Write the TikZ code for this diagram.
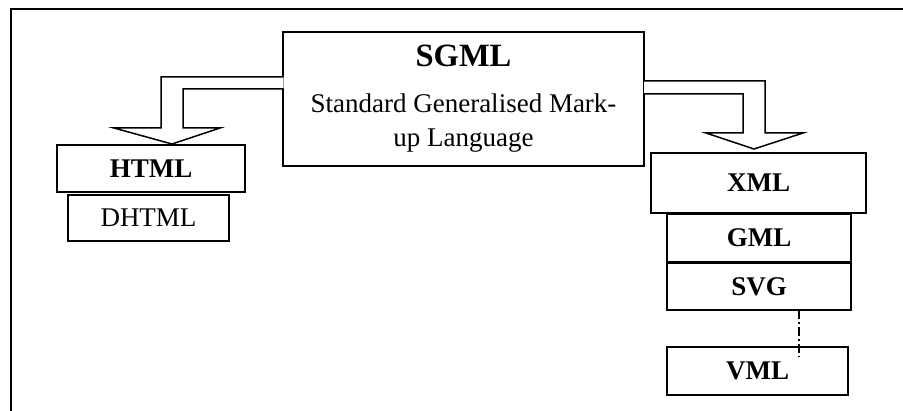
\documentclass[tikz,border=0pt]{standalone}
\usepackage{fontspec}
\setmainfont{Liberation Serif}
\usepackage{tikz}
\usetikzlibrary{positioning, calc}
\tikzstyle{langbox} = [rectangle, draw, line width=0.75pt, inner sep=0pt, font=\fontsize{27}{34}\selectfont]
\tikzstyle{boldbox} = [langbox, font=\fontsize{27}{34}\selectfont\bfseries]
\tikzstyle{blockarrow} = [draw, fill=white, line width=0.75pt, line join=miter]
\tikzstyle{linkline} = [line width=0.75pt, dash pattern=on 4.5pt off 1.5pt on 1pt off 1.5pt]

\begin{document}
\begin{tikzpicture}[x=1pt, y=-1pt, scale=0.5, transform shape]
    \useasboundingbox (0,0) rectangle (903,411);
    % Page frame
    \draw[line width=1pt] (11,411) -- (11,9) -- (903,9);

    % Root language
    \node[langbox, minimum width=361, minimum height=134, align=center] (sgml) at (463.5,99)
        {{\fontsize{32.5}{39}\selectfont\bfseries SGML}\\[12pt]Standard Generalised Mark-\\up Language};

    % Left branch
    \node[boldbox, minimum width=188, minimum height=47] (html) at (151,168.5) {HTML};
    \node[langbox, minimum width=161, minimum height=46] (dhtml) at (148.5,218) {DHTML};

    % Right branch
    \node[boldbox, minimum width=215, minimum height=60] (xml) at (758.5,183) {XML};
    \node[boldbox, minimum width=184, minimum height=48] (gml) at (759,238) {GML};
    \node[boldbox, minimum width=184, minimum height=47] (svg) at (759,286.5) {SVG};
    \node[boldbox, minimum width=181, minimum height=48] (vml) at (757.5,371) {VML};

    % Block arrows out of SGML
    \draw[blockarrow] (283.5,77) -- (161,77) -- (161,128) -- (114,128) -- (172,144)
        -- (220,128) -- (183,128) -- (183,89) -- (283.5,89);
    \draw[blockarrow] (644,81) -- (765,81) -- (765,133) -- (803,133) -- (754,149)
        -- (706,133) -- (743,133) -- (743,94) -- (644,94);

    % SVG to VML link
    \coordinate (vmlstub) at (799,357);
    \draw[linkline] (svg.south -| vmlstub) -- (vmlstub);
\end{tikzpicture}
\end{document}
